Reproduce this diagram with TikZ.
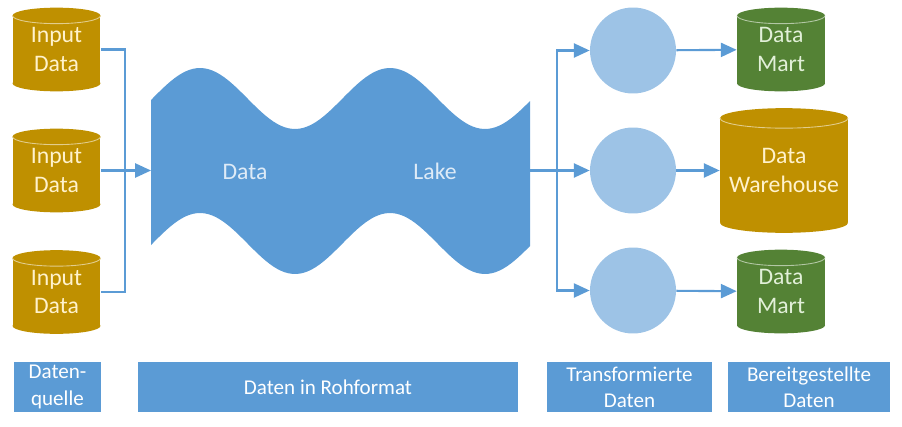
\documentclass[tikz,border=0pt]{standalone}
\usepackage{fontspec}
\setmainfont{Carlito}
\usetikzlibrary{arrows.meta}

\definecolor{dbgold}{HTML}{BF9000}
\definecolor{dbgreen}{HTML}{548235}
\definecolor{lakeblue}{HTML}{5B9BD5}
\definecolor{circblue}{HTML}{9DC3E6}
\definecolor{goldtext}{HTML}{FFF2CC}
\definecolor{greentext}{HTML}{E2F0D9}
\definecolor{laketext}{HTML}{DEEBF7}

\begin{document}
\begin{tikzpicture}[x=0.02cm,y=-0.02cm,
    link/.style = {draw=lakeblue, line width=1.2pt},
    arrow/.style = {link, -{Triangle[length=9pt,width=8pt]}},
    db/.style = {rectangle, fill=#1, inner sep=0pt, align=center,
                 font=\fontsize{13.5}{16}\selectfont},
    smalldb/.style = {db=#1, minimum width=1.76cm, minimum height=1.34cm},
    stage/.style = {circle, fill=circblue, minimum size=1.72cm, inner sep=0pt},
    tag/.style = {fill=lakeblue, text=white, minimum height=1cm, inner sep=0pt,
                  align=center, font=\fontsize{12}{15}\selectfont},
    lid/.style = {line width=0.5pt}]
    \useasboundingbox (0,0) rectangle (902,426);

    % sources
    \node[smalldb=dbgold, text=goldtext] (in1) at (56.5,49.5) {Input\\Data};
    \node[smalldb=dbgold, text=goldtext] (in2) at (56.5,170.5) {Input\\Data};
    \node[smalldb=dbgold, text=goldtext] (in3) at (56.5,292) {Input\\Data};

    % data lake
    \fill[lakeblue] plot[domain=151:530,samples=100] (\x,{98.5-30.5*cos(1.894737*(\x-200))})
        -- plot[domain=530:151,samples=100] (\x,{243.5-30.5*cos(1.894737*(\x-200))}) -- cycle;
    \node[text=laketext, font=\fontsize{13.5}{16}\selectfont] (lakeA) at (245,171.5) {Data};
    \node[text=laketext, font=\fontsize{13.5}{16}\selectfont] (lakeB) at (435,171.5) {Lake};
    \coordinate (lakein) at (151,170.5);
    \coordinate (lakeout) at (530,170.5);

    % transformations
    \node[stage] (t1) at (633,50.5) {};
    \node[stage] (t2) at (633,170.5) {};
    \node[stage] (t3) at (633,290.5) {};

    % targets
    \node[smalldb=dbgreen, text=greentext] (dm1) at (781,49.5) {Data\\Mart};
    \node[db=dbgold, text=goldtext, minimum width=2.56cm, minimum height=2.08cm]
        (wh) at (784,170.5) {Data\\Warehouse};
    \node[smalldb=dbgreen, text=greentext] (dm2) at (781,291.5) {Data\\Mart};

    % cylinder ends
    \foreach \n/\c in {in1/dbgold,in2/dbgold,in3/dbgold,dm1/dbgreen,dm2/dbgreen} {
        \fill[\c] (\n.south) ellipse[x radius=0.88cm, y radius=0.16cm];
        \fill[\c] (\n.north) ellipse[x radius=0.88cm, y radius=0.16cm];
        \draw[lid, \c!45!white] ([xshift=-0.88cm]\n.north)
            arc[start angle=180, end angle=360, x radius=0.88cm, y radius=0.16cm];
    }
    \fill[dbgold] (wh.south) ellipse[x radius=1.28cm, y radius=0.2cm];
    \fill[dbgold] (wh.north) ellipse[x radius=1.28cm, y radius=0.2cm];
    \draw[lid, dbgold!45!white] ([xshift=-1.28cm]wh.north)
        arc[start angle=180, end angle=360, x radius=1.28cm, y radius=0.2cm];

    % connectors
    \coordinate (join) at (125,170.5);
    \draw[link] (in1.east) -| (join) |- (in3.east);
    \draw[arrow] (in2.east) -- (lakein);

    \coordinate (fork) at (557,170.5);
    \draw[link] (lakeout) -- (fork);
    \draw[arrow] (fork) -- (t2);
    \draw[arrow] (fork) |- (t1);
    \draw[arrow] (fork) |- (t3);

    \draw[arrow] (t1) -- (dm1);
    \draw[arrow] (t2) -- (wh);
    \draw[arrow] (t3) -- (dm2);

    % stage labels
    \node[tag, minimum width=1.74cm] (src) at (57.5,387) {Daten-\\quelle};
    \node[tag, minimum width=7.6cm] (raw) at (328,387) {Daten in Rohformat};
    \node[tag, minimum width=3.3cm] (trans) at (629.5,387) {Transformierte\\Daten};
    \node[tag, minimum width=3.24cm] (ready) at (809,387) {Bereitgestellte\\Daten};
\end{tikzpicture}
\end{document}
